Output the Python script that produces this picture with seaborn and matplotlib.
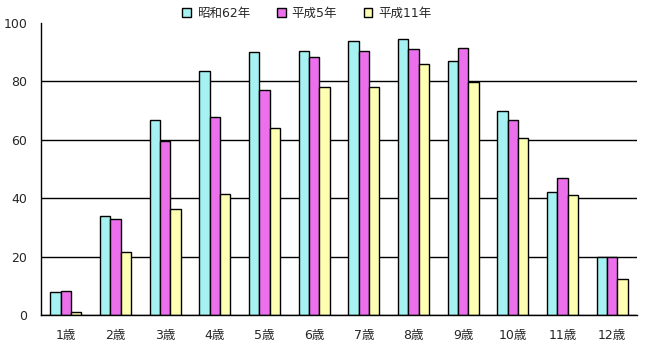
import numpy as np
import pandas as pd
import matplotlib
matplotlib.use("Agg")
import matplotlib.pyplot as plt
from matplotlib.patches import Patch
import seaborn as sns

ages = ["1歳", "2歳", "3歳", "4歳", "5歳", "6歳", "7歳", "8歳", "9歳", "10歳", "11歳", "12歳"]
years = ["昭和62年", "平成5年", "平成11年"]
s62 = [7.9, 33.8, 66.8, 83.4, 89.9, 90.3, 93.7, 94.4, 86.8, 69.7, 42.1, 20.0]
h5 = [8.2, 32.8, 59.6, 67.7, 76.9, 88.2, 90.3, 91.0, 91.3, 66.7, 46.8, 20.0]
h11 = [1.0, 21.6, 36.2, 41.4, 63.9, 78.0, 78.0, 85.9, 79.7, 60.5, 41.0, 12.3]
yticks = [0, 20, 40, 60, 80, 100]
colors = ["#a6f2f2", "#ec70ec", "#ffffb4"]

df = pd.DataFrame({
    "age": ages * 3,
    "year": [years[0]] * 12 + [years[1]] * 12 + [years[2]] * 12,
    "value": s62 + h5 + h11,
})

sns.set_style("white")
plt.rcParams["font.family"] = ["DejaVu Sans", "Noto Sans CJK JP"]

fig = plt.figure(figsize=(6.46, 3.54), dpi=100)
ax = fig.add_axes([41 / 646, 1 - 315.3 / 354, (637 - 41) / 646, (315.3 - 22.8) / 354])

sns.barplot(data=df, x="age", y="value", hue="year", palette=colors, width=0.62,
            edgecolor="black", linewidth=1.0, saturation=1, ax=ax, legend=False)

ax.set_xlim(-0.5, 11.5)
ax.set_ylim(0, 100)
ax.set_yticks(yticks)
ax.set_xlabel("")
ax.set_ylabel("")
for s in ["top", "right"]:
    ax.spines[s].set_visible(False)
for s in ["left", "bottom"]:
    ax.spines[s].set_color("black")
    ax.spines[s].set_linewidth(1.0)

ax.yaxis.grid(True, color="black", linewidth=1.0)
ax.set_axisbelow(True)
ax.get_ygridlines()[-1].set_visible(False)

ax.tick_params(axis="y", direction="in", length=3, width=1, color="black", labelsize=9, pad=10)
ax.tick_params(axis="x", which="major", length=0, labelsize=9, pad=10)
ax.set_xticks(np.arange(-0.5, 12, 1), minor=True)
ax.tick_params(axis="x", which="minor", direction="in", length=3, width=1, color="black")

handles = [Patch(facecolor=c, edgecolor="black", linewidth=1.0) for c in colors]
fig.legend(handles, years, loc="center", bbox_to_anchor=(307 / 646, 1 - 13 / 354), ncol=3,
           frameon=False, fontsize=9, handlelength=0.7, handleheight=0.7,
           handletextpad=0.5, columnspacing=2.1, borderaxespad=0)

fig.savefig("out.png", dpi=100)
